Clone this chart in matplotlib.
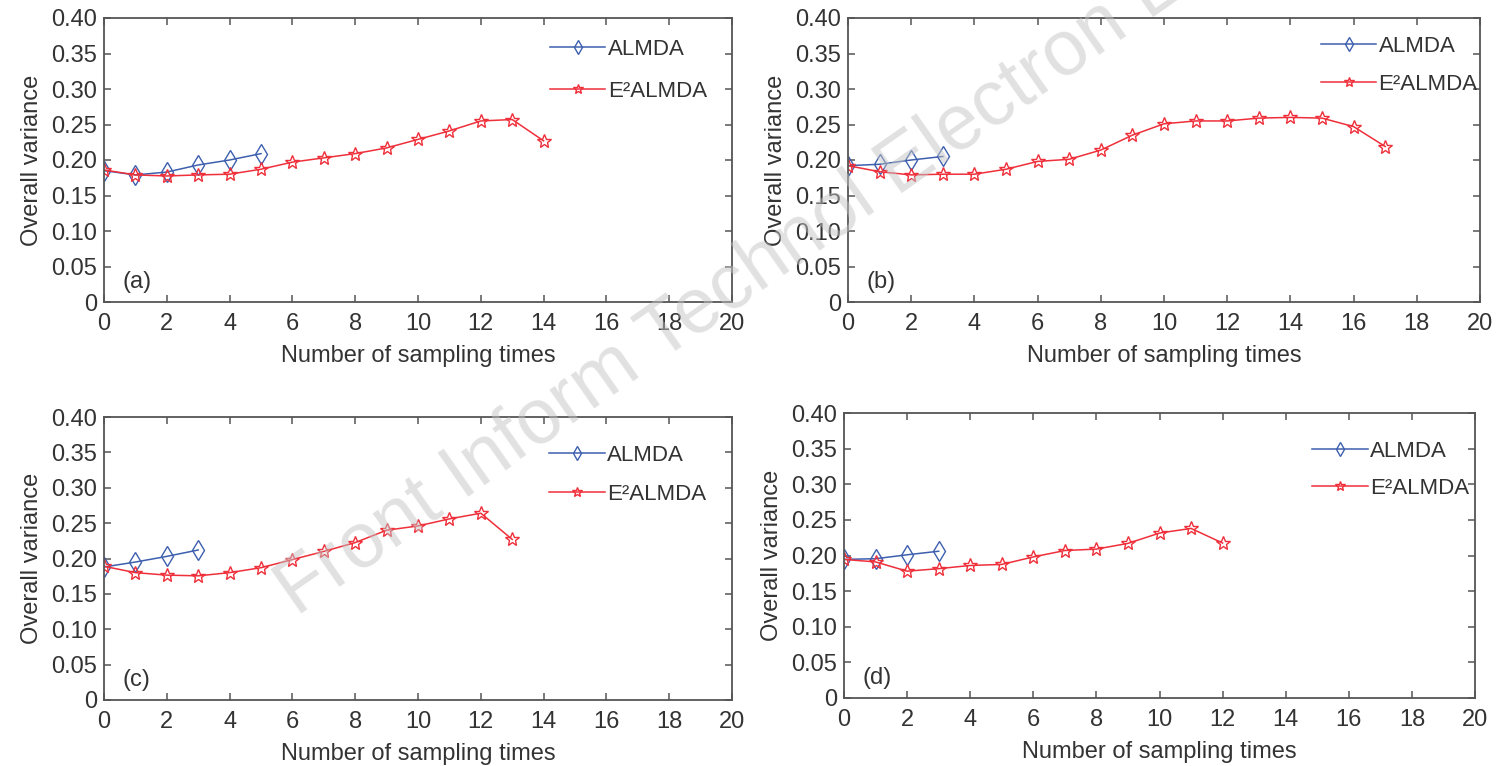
import numpy as np
import matplotlib
matplotlib.use('Agg')
import matplotlib.pyplot as plt

plt.rcParams['font.family'] = ['Liberation Sans', 'DejaVu Sans']

# data
xA_almda = [0, 1, 2, 3, 4, 5]
yA_almda = [0.185, 0.179, 0.183, 0.193, 0.200, 0.209]
xA_e2 = list(range(15))
yA_e2 = [0.186, 0.179, 0.1775, 0.179, 0.180, 0.187, 0.197, 0.203, 0.209,
         0.217, 0.229, 0.241, 0.255, 0.257, 0.227]

xB_almda = [0, 1, 2, 3]
yB_almda = [0.192, 0.194, 0.200, 0.205]
xB_e2 = list(range(18))
yB_e2 = [0.192, 0.1835, 0.179, 0.180, 0.180, 0.187, 0.198, 0.201, 0.214,
         0.235, 0.251, 0.255, 0.255, 0.259, 0.260, 0.259, 0.247, 0.219]

xC_almda = [0, 1, 2, 3]
yC_almda = [0.188, 0.195, 0.203, 0.212]
xC_e2 = list(range(14))
yC_e2 = [0.189, 0.180, 0.1765, 0.1755, 0.180, 0.187, 0.1985, 0.210, 0.2225,
         0.240, 0.246, 0.256, 0.264, 0.227]

xD_almda = [0, 1, 2, 3]
yD_almda = [0.1945, 0.1955, 0.201, 0.206]
xD_e2 = list(range(13))
yD_e2 = [0.1945, 0.191, 0.178, 0.1815, 0.186, 0.1875, 0.198, 0.207, 0.209,
         0.217, 0.2315, 0.238, 0.2175]

panelTags = ['(a)', '(b)', '(c)', '(d)']
seriesNames = ['ALMDA', 'E\u00b2ALMDA']
xTicks = list(range(0, 21, 2))
yTicks = [0, 0.05, 0.10, 0.15, 0.20, 0.25, 0.30, 0.35, 0.40]
yTickLabels = ['0', '0.05', '0.10', '0.15', '0.20', '0.25', '0.30', '0.35', '0.40']

W, H = 1496, 766
BLUE = '#3d5fae'
RED = '#ef2f3a'
AXCOL = '#555555'
TXT = '#333333'

# axes boxes in pixels: left, right, top, bottom
boxes = [(104, 732, 18, 302), (848, 1480, 18, 302),
         (104, 732, 417, 700), (844, 1475, 413, 698)]
# legend anchor (axes fraction) and row spacing
legendPos = [(0.71, 0.927, 0.95), (0.748, 0.937, 0.75), (0.709, 0.902, 0.8), (0.742, 0.903, 0.72)]

data = [(xA_almda, yA_almda, xA_e2, yA_e2),
        (xB_almda, yB_almda, xB_e2, yB_e2),
        (xC_almda, yC_almda, xC_e2, yC_e2),
        (xD_almda, yD_almda, xD_e2, yD_e2)]

fig = plt.figure(figsize=(W / 100, H / 100), dpi=100)

for i in range(4):
    l, r, t, b = boxes[i]
    ax = fig.add_axes([l / W, 1 - b / H, (r - l) / W, (b - t) / H])
    xa, ya, xe, ye = data[i]
    ax.plot(xa, ya, color=BLUE, lw=1.1, marker='d', ms=10, mfc='none',
            mec=BLUE, mew=1.0, label=seriesNames[0])
    ax.plot(xe, ye, color=RED, lw=1.1, marker='*', ms=10, mfc='none',
            mec=RED, mew=1.0, label=seriesNames[1])

    ax.set_xlim(0, 20)
    ax.set_ylim(0, 0.40)
    ax.set_xticks(xTicks)
    ax.set_yticks(yTicks)
    ax.set_yticklabels(yTickLabels)
    ax.tick_params(direction='in', length=5, width=1.1, colors=AXCOL,
                   labelcolor=TXT, labelsize=17, top=True, right=True)
    ax.tick_params(axis='x', pad=8)
    ax.tick_params(axis='y', pad=5)
    for s in ax.spines.values():
        s.set_color(AXCOL)
        s.set_linewidth(1.3)

    ax.set_xlabel('Number of sampling times', fontsize=17, color=TXT, labelpad=7)
    ax.set_ylabel('Overall variance', fontsize=17, color=TXT, labelpad=6)
    ax.text(0.6, 0.028, panelTags[i], fontsize=17, color=TXT, va='center')

    lx, ly, sp = legendPos[i]
    ax.legend(loc='upper left', bbox_to_anchor=(lx, ly), frameon=False, fontsize=16,
              borderpad=0, borderaxespad=0, handlelength=2.5, handletextpad=0.1,
              labelspacing=sp, markerscale=0.75, labelcolor=TXT)

# faint watermark across the figure
fig.text(285 / W, 1 - 600 / H, 'Front Inform Technol Electron Eng', fontsize=56,
         color='#c4c4c4', alpha=0.5, rotation=35, rotation_mode='anchor',
         ha='left', va='center', zorder=10)

fig.savefig('out.png', dpi=100)
